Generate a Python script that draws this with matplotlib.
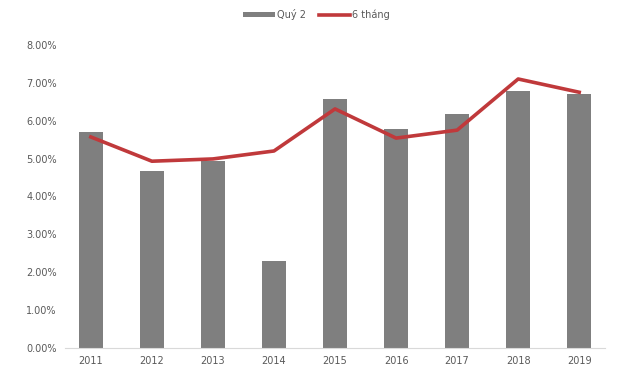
import matplotlib.pyplot as plt
import numpy as np
from matplotlib.ticker import PercentFormatter

years = ['2011', '2012', '2013', '2014', '2015', '2016', '2017', '2018', '2019']
quy2 = [5.70, 4.67, 4.93, 2.30, 6.57, 5.78, 6.17, 6.78, 6.70]
sau_thang = [5.57, 4.93, 4.99, 5.20, 6.31, 5.54, 5.75, 7.10, 6.75]

fig = plt.figure(figsize=(6.21, 3.71), dpi=100)
ax = fig.add_axes([0.105, 0.062, 0.869, 0.817])

x = np.arange(len(years))
bars = ax.bar(x, quy2, width=0.4, color='#7f7f7f', label='Quý 2', zorder=2)
line, = ax.plot(x, sau_thang, color='#c0393b', linewidth=2.6, label='6 tháng', zorder=3)

ax.set_ylim(0, 8)
ax.set_xlim(-0.42, len(years) - 0.58)
ax.set_yticks(np.arange(0, 8.01, 1))
ax.yaxis.set_major_formatter(PercentFormatter(decimals=2))
ax.set_xticks(x)
ax.set_xticklabels(years)

for side in ['top', 'right', 'left']:
    ax.spines[side].set_visible(False)
ax.spines['bottom'].set_color('#d9d9d9')
ax.tick_params(axis='both', length=0, labelsize=7, colors='#595959', pad=6)

leg = fig.legend(handles=[bars, line], labels=['Quý 2', '6 tháng'],
                 loc='upper center', bbox_to_anchor=(0.51, 1.0), ncol=2, frameon=False,
                 fontsize=7, handlelength=3.2, handleheight=0.5, columnspacing=1.4,
                 handletextpad=0.2)
for t in leg.get_texts():
    t.set_color('#595959')

fig.savefig('out.png', dpi=100)
